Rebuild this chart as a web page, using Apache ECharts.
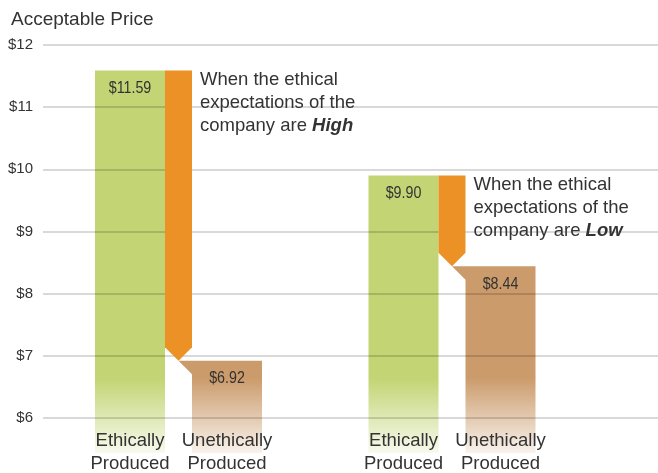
<!DOCTYPE html>
<html><head><meta charset="utf-8">
<script src="https://cdn.jsdelivr.net/npm/echarts@6/dist/echarts.min.js"></script>
<style>html,body{margin:0;padding:0;background:#fff}#c{width:658px;height:473px}</style>
</head><body><div id="c"></div>
<script>
// ---- data ----
const scenarios = ['High', 'Low'];
const ethicalPrices = [11.59, 9.90];
const unethicalPrices = [6.92, 8.44];
const barCategoryLabels = ['Ethically\nProduced', 'Unethically\nProduced'];
const yTickValues = [6, 7, 8, 9, 10, 11, 12];
const yTitle = 'Acceptable Price';
const annotationPrefix = 'When the ethical\nexpectations of the\ncompany are ';

// ---- style ----
const TEXT_FONT = "'Liberation Sans', Arial, sans-serif";
const TEXT_COLOR = '#333333';
const GREEN = '#C2D473', TAN = '#CB9B6B', ORANGE = '#EC9125';
const OFFSET = 48.5, HALF_BAR = 35, HALF_ARROW = 13.5, NOTCH = 13.5, BELOW = 35, FADE = 40;

const yMin = yTickValues[0], yMax = yTickValues[yTickValues.length - 1];

function fadeFill(color, top, bottom, fadeStartY) {
  const h = bottom - top;
  let s = (fadeStartY - top) / h; if (s < 0) s = 0; if (s > 1) s = 1;
  return new echarts.graphic.LinearGradient(0, 0, 0, 1, [
    { offset: 0, color: color },
    { offset: s, color: color },
    { offset: 1, color: echarts.color.modifyAlpha(color, 0.12) }
  ]);
}

function barRender(kind) {
  return function (params, api) {
    const i = api.value(0), v = api.value(1);
    const c = api.coord([i, v]);
    const base = api.coord([i, yMin]);
    const cx = c[0] + (kind === 'eth' ? -OFFSET : OFFSET);
    const top = c[1], bottom = base[1] + BELOW;
    let pts;
    if (kind === 'eth') {
      pts = [[cx - HALF_BAR, top], [cx + HALF_BAR, top], [cx + HALF_BAR, bottom], [cx - HALF_BAR, bottom]];
    } else {
      pts = [[cx - HALF_BAR - NOTCH, top], [cx + HALF_BAR, top], [cx + HALF_BAR, bottom], [cx - HALF_BAR, bottom], [cx - HALF_BAR, top + NOTCH]];
    }
    const color = kind === 'eth' ? GREEN : TAN;
    return {
      type: 'group',
      children: [
        { type: 'polygon', shape: { points: pts },
          style: { fill: fadeFill(color, top, bottom, base[1] - FADE) } },
        { type: 'text', z2: 10, x: cx, y: top + 18, scaleX: 0.84,
          style: { text: '$' + v.toFixed(2), x: 0, y: 0,
            align: 'center', verticalAlign: 'middle', font: '17px ' + TEXT_FONT, fill: TEXT_COLOR } },
        { type: 'text', z2: 10,
          style: { text: barCategoryLabels[kind === 'eth' ? 0 : 1], x: cx, y: base[1] + 11.5,
            align: 'center', verticalAlign: 'top', lineHeight: 23,
            font: '18.5px ' + TEXT_FONT, fill: TEXT_COLOR } }
      ]
    };
  };
}

function arrowRender(params, api) {
  const i = api.value(0), eth = api.value(1), uneth = api.value(2);
  const t = api.coord([i, eth]);
  const b = api.coord([i, uneth]);
  const cx = t[0], top = t[1], tip = b[1];
  const pts = [[cx - HALF_ARROW, top], [cx + HALF_ARROW, top], [cx + HALF_ARROW, tip - HALF_ARROW],
               [cx, tip], [cx - HALF_ARROW, tip - HALF_ARROW]];
  return {
    type: 'group',
    children: [
      { type: 'polygon', shape: { points: pts }, style: { fill: ORANGE } },
      { type: 'text',
        style: { text: annotationPrefix + '{b|' + scenarios[params.dataIndex] + '}',
          x: cx + HALF_ARROW + 8, y: top - 2, align: 'left', verticalAlign: 'top',
          lineHeight: 23, font: '18.5px ' + TEXT_FONT, fill: TEXT_COLOR,
          rich: { b: { fontFamily: TEXT_FONT, fontSize: 18.5, fontWeight: 'bold', fontStyle: 'italic',
                       lineHeight: 23, fill: TEXT_COLOR, color: TEXT_COLOR } } } }
    ]
  };
}

const chart = echarts.init(document.getElementById('c'), null, { renderer: 'canvas' });
chart.setOption({
  animation: false,
  backgroundColor: '#ffffff',
  graphic: [{ type: 'text', left: 11, top: 10,
    style: { text: yTitle, font: '19px ' + TEXT_FONT, fill: TEXT_COLOR } }],
  grid: { left: 43, right: 0, top: 45, bottom: 55 },
  xAxis: { type: 'value', min: -0.4954, max: 1.7532, show: false },
  yAxis: {
    type: 'value', min: yMin, max: yMax, interval: 1, z: 3,
    axisLine: { show: false }, axisTick: { show: false },
    axisLabel: { margin: 10, formatter: v => '$' + v, color: TEXT_COLOR,
                 fontFamily: TEXT_FONT, fontSize: 15 },
    splitLine: { lineStyle: { color: 'rgba(0,0,0,0.2)', width: 1.6 } }
  },
  series: [
    { type: 'custom', z: 2, clip: false, renderItem: barRender('eth'),
      data: ethicalPrices.map((v, i) => [i, v]) },
    { type: 'custom', z: 2, clip: false, renderItem: barRender('uneth'),
      data: unethicalPrices.map((v, i) => [i, v]) },
    { type: 'custom', z: 5, clip: false, renderItem: arrowRender,
      data: ethicalPrices.map((v, i) => [i, v, unethicalPrices[i]]) }
  ]
});
</script></body></html>
